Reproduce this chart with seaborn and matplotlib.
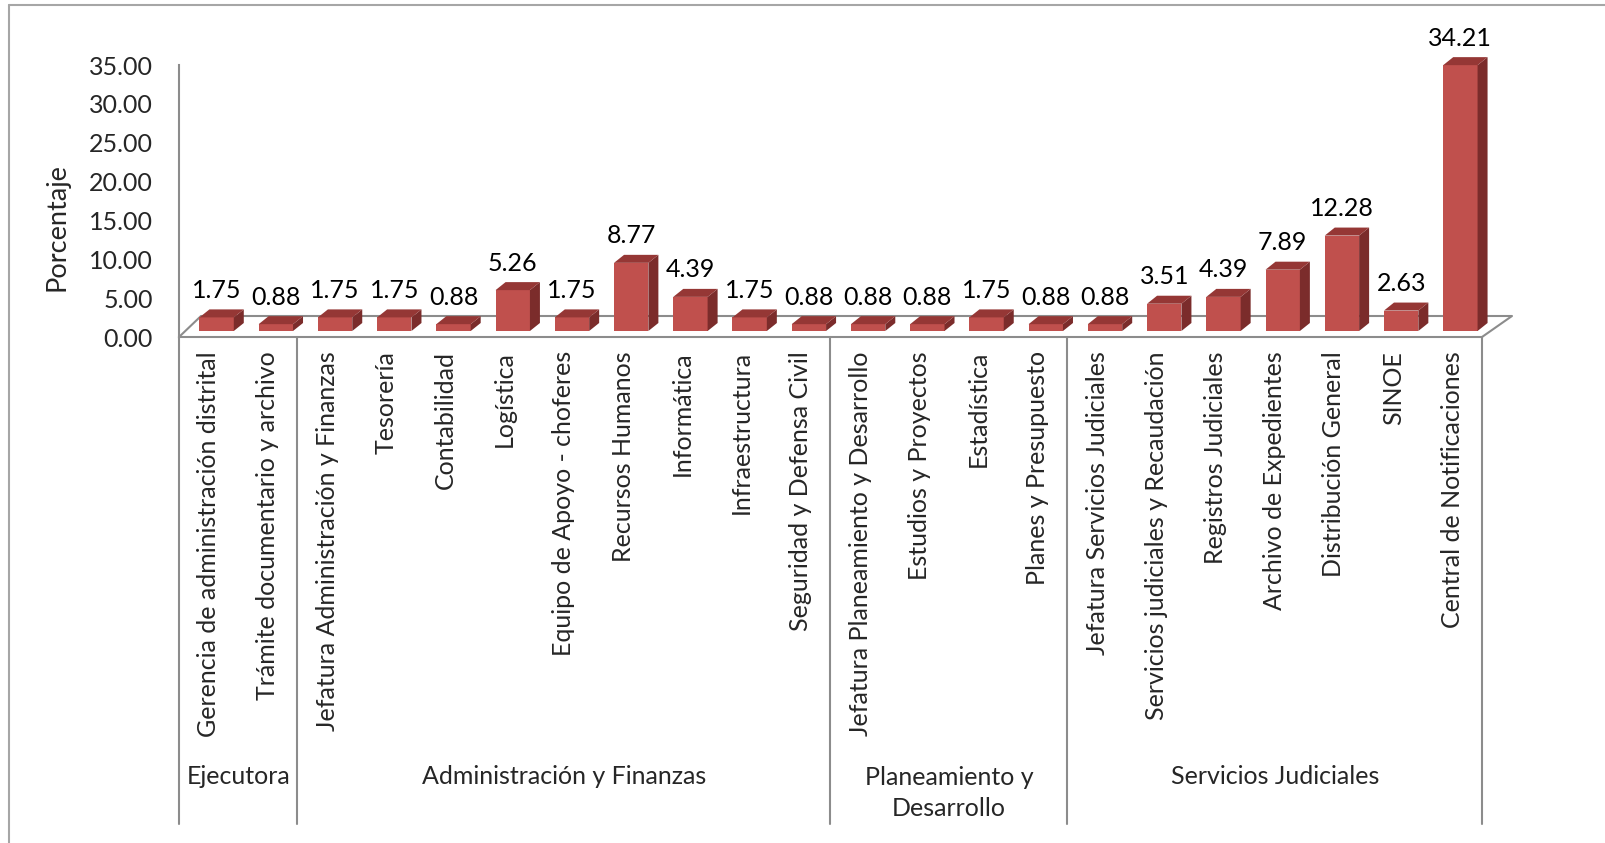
import numpy as np
import pandas as pd
import seaborn as sns
import matplotlib.pyplot as plt
from matplotlib.patches import Polygon
from matplotlib.lines import Line2D
from matplotlib.transforms import ScaledTranslation, blended_transform_factory

categories = [
    'Gerencia de administración distrital', 'Trámite documentario y archivo',
    'Jefatura Administración y Finanzas', 'Tesorería', 'Contabilidad', 'Logística',
    'Equipo de Apoyo - choferes', 'Recursos Humanos', 'Informática', 'Infraestructura',
    'Seguridad y Defensa Civil',
    'Jefatura Planeamiento y Desarrollo', 'Estudios y Proyectos', 'Estadística',
    'Planes y Presupuesto',
    'Jefatura Servicios Judiciales', 'Servicios judiciales y Recaudación',
    'Registros Judiciales', 'Archivo de Expedientes', 'Distribución General', 'SINOE',
    'Central de Notificaciones',
]
values = [1.75, 0.88, 1.75, 1.75, 0.88, 5.26, 1.75, 8.77, 4.39, 1.75, 0.88,
          0.88, 0.88, 1.75, 0.88, 0.88, 3.51, 4.39, 7.89, 12.28, 2.63, 34.21]
groups = ['Ejecutora', 'Administración y Finanzas', 'Planeamiento y\nDesarrollo',
          'Servicios Judiciales']
group_sizes = [2, 9, 4, 7]
y_ticks = [0, 5, 10, 15, 20, 25, 30, 35]

df = pd.DataFrame({'Area': categories, 'Porcentaje': values})

sns.set_style('white')
plt.rcParams['font.family'] = ['Lato', 'DejaVu Sans']
FS = 18
W, H = 1606, 843
DPI = 100

fig = plt.figure(figsize=(W / DPI, H / DPI), dpi=DPI)
# axes placed in pixel terms: front floor edge 179..1482, y=0 at 337, y=35 at 65
ax = fig.add_axes([179 / W, (H - 337) / H, 1303 / W, 272 / H])

front = '#C0504D'
top_c = '#953735'
side_c = '#7B2C2B'

sns.barplot(data=df, x='Area', y='Porcentaje', color=front, width=0.58,
            saturation=1, ax=ax, edgecolor='none')
ax.set_xlim(-0.5, len(categories) - 0.5)
ax.set_ylim(0, 35)

px_x = 1303 / len(categories)   # pixels per category
px_y = 272 / 35                 # pixels per unit

# bars sit at mid depth of the floor
bar_off = ScaledTranslation(8 / DPI, 6 / DPI, fig.dpi_scale_trans)
bar_trans = ax.transData + bar_off
dep_x = 10 / px_x
dep_y = 8 / px_y

for p, v in zip(ax.patches, values):
    p.set_transform(bar_trans)
    p.set_clip_on(False)
    x0 = p.get_x()
    x1 = x0 + p.get_width()
    h = p.get_height()
    side = Polygon([(x1, 0), (x1 + dep_x, dep_y), (x1 + dep_x, h + dep_y), (x1, h)],
                   closed=True, facecolor=side_c, edgecolor='none',
                   transform=bar_trans, clip_on=False)
    top = Polygon([(x0, h), (x1, h), (x1 + dep_x, h + dep_y), (x0 + dep_x, h + dep_y)],
                  closed=True, facecolor=top_c, edgecolor='none',
                  transform=bar_trans, clip_on=False)
    ax.add_patch(side)
    ax.add_patch(top)
    ax.annotate(f'{v:.2f}', xy=(x0 + p.get_width() / 2, h), xycoords=bar_trans,
                xytext=(0, 27 * 0.72), textcoords='offset points',
                ha='center', va='center', fontsize=FS, color='black',
                annotation_clip=False)

# floor (3D base)
grey = '#8C8C8C'
n = len(categories)
back_y = 21 / px_y
floor_x = [-0.5, -0.5 + 22 / px_x, n - 0.5 + 30 / px_x, n - 0.5]
floor_y = [0, back_y, back_y, 0]
ax.plot(floor_x, floor_y, color=grey, lw=1.5, clip_on=False, zorder=0.5)

# axes styling
for s in ['top', 'right']:
    ax.spines[s].set_visible(False)
ax.spines['left'].set_color(grey)
ax.spines['left'].set_linewidth(1.5)
ax.spines['bottom'].set_color(grey)
ax.spines['bottom'].set_linewidth(1.5)
ax.set_yticks(y_ticks)
ax.set_yticklabels([f'{t:.2f}' for t in y_ticks], fontsize=FS)
ax.tick_params(axis='y', length=0, pad=26 * 0.72)
ax.set_xticks(range(n))
ax.set_xticklabels(categories, rotation=90, fontsize=FS, va='top', ha='center')
ax.tick_params(axis='x', length=0, pad=14 * 0.72)
ax.set_xlabel('')
ax.set_ylabel('')

fig.text(57 / W, (H - 227) / H, 'Porcentaje', rotation=90, ha='center', va='center',
         fontsize=FS + 1.5)

# group separators and labels
btrans = blended_transform_factory(ax.transData, fig.transFigure)
edges = np.concatenate([[0], np.cumsum(group_sizes)]) - 0.5
for e in edges:
    ax.add_line(Line2D([e, e], [(H - 337) / H, (H - 824) / H], color=grey, lw=1.5,
                       transform=btrans, clip_on=False))
for g, a, b in zip(groups, edges[:-1], edges[1:]):
    yc = 777 if '\n' not in g else 793
    ax.text((a + b) / 2, (H - yc) / H, g, transform=btrans, ha='center', va='center',
            fontsize=FS, linespacing=1.4)

# outer chart frame
fig.add_artist(Line2D([9 / W, 9 / W], [0, 1 - 5 / H], color='#A6A6A6', lw=1.5,
                      transform=fig.transFigure))
fig.add_artist(Line2D([9 / W, 1], [1 - 5 / H, 1 - 5 / H], color='#A6A6A6', lw=1.5,
                      transform=fig.transFigure))

fig.savefig('out.png', dpi=DPI, facecolor='white')
